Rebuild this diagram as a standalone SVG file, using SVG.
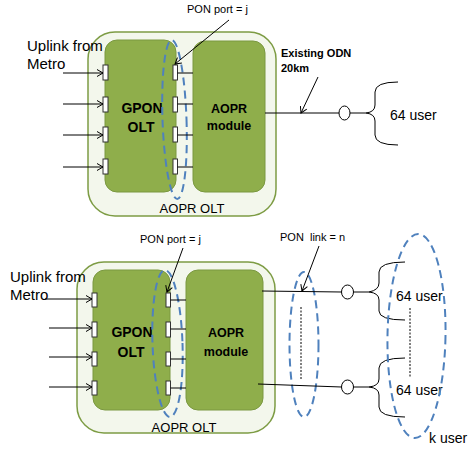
<svg xmlns="http://www.w3.org/2000/svg" width="469" height="449" viewBox="0 0 469 449">
<defs>
<marker id="arr" markerWidth="8" markerHeight="8" refX="7" refY="4" orient="auto" markerUnits="userSpaceOnUse">
<path d="M1,0.5 L7,4 L1,7.5" fill="none" stroke="#000" stroke-width="1"/>
</marker>
<style>
.outer{fill:#f3f7ec;stroke:#7d9c44;stroke-width:1.5}
.inner{fill:#8fae4b;stroke:#7a9840;stroke-width:1}
.port{fill:#fff;stroke:#333;stroke-width:1}
.ln{stroke:#000;stroke-width:1;fill:none}
.ar{stroke:#000;stroke-width:1;fill:none;marker-end:url(#arr)}
.blue{fill:none;stroke:#4f81bd;stroke-width:2;stroke-dasharray:8,5}
.dot{stroke:#000;stroke-width:1;stroke-dasharray:2,1.5}
.t{font-family:"Liberation Sans",Arial,sans-serif;fill:#000}
.b{font-family:"Liberation Sans",Arial,sans-serif;font-weight:bold;fill:#000}
.spl{fill:#fff;stroke:#000;stroke-width:1}
</style>
</defs>
<rect width="469" height="449" fill="#fff"/>

<!-- ===== TOP DIAGRAM ===== -->
<g id="top-aopr-olt">
<rect class="outer" x="88" y="32" width="188" height="184" rx="27"/>
<text class="t" x="192" y="213" font-size="13" text-anchor="middle">AOPR OLT</text>
</g>
<g id="top-gpon-olt">
<rect class="inner" x="105" y="40" width="71" height="152" rx="12"/>
<text class="b" x="142" y="113" font-size="14" text-anchor="middle">GPON</text>
<text class="b" x="141" y="132" font-size="14" text-anchor="middle">OLT</text>
</g>
<g id="top-aopr-module">
<rect class="inner" x="193" y="41" width="72" height="151" rx="12"/>
<text class="b" x="229" y="113" font-size="12.5" text-anchor="middle">AOPR</text>
<text class="b" x="229" y="130" font-size="12.5" text-anchor="middle">module</text>
</g>
<g id="top-ports">
<rect class="port" x="103" y="65" width="5" height="15"/>
<rect class="port" x="103" y="97" width="5" height="15"/>
<rect class="port" x="103" y="127" width="5" height="15"/>
<rect class="port" x="103" y="159" width="5" height="15"/>
<rect class="port" x="173" y="65" width="4.5" height="15"/>
<rect class="port" x="173" y="97" width="4.5" height="15"/>
<rect class="port" x="173" y="127" width="4.5" height="15"/>
<rect class="port" x="173" y="159" width="4.5" height="15"/>
</g>
<g id="top-splitter">
<ellipse class="spl" cx="344.5" cy="113" rx="5.5" ry="7"/>
</g>
<g id="top-brace">
<path class="ln" d="M398,82 Q375,82 375,92 L375,105 Q375,112 366,113 Q375,114 375,121 L375,135 Q375,145 398,145"/>
</g>
<g id="top-labels">
<text class="t" x="27" y="51" font-size="15">Uplink from</text>
<text class="t" x="27" y="69" font-size="15">Metro</text>
<text class="t" x="187" y="13" font-size="11">PON port = j</text>
<text class="b" x="281" y="57" font-size="11">Existing ODN</text>
<text class="b" x="281" y="72" font-size="11">20km</text>
<text class="t" x="390" y="120" font-size="14">64 user</text>
</g>
<g id="top-pon-ellipse">
<ellipse class="blue" cx="174.5" cy="119.5" rx="12" ry="79.5" transform="rotate(-2 174.5 119.5)"/>
</g>

<!-- ===== BOTTOM DIAGRAM ===== -->
<g id="bot-aopr-olt">
<rect class="outer" x="77" y="262" width="198" height="171" rx="27"/>
<text class="t" x="184" y="432" font-size="13" text-anchor="middle">AOPR OLT</text>
</g>
<g id="bot-gpon-olt">
<rect class="inner" x="93" y="270" width="77" height="140" rx="12"/>
<text class="b" x="132" y="337" font-size="14" text-anchor="middle">GPON</text>
<text class="b" x="131" y="357" font-size="14" text-anchor="middle">OLT</text>
</g>
<g id="bot-aopr-module">
<rect class="inner" x="186" y="270" width="77" height="140" rx="12"/>
<text class="b" x="226" y="337" font-size="12.5" text-anchor="middle">AOPR</text>
<text class="b" x="226" y="356" font-size="12.5" text-anchor="middle">module</text>
</g>
<g id="bot-ports">
<rect class="port" x="92" y="293" width="5" height="14"/>
<rect class="port" x="92" y="322" width="5" height="15"/>
<rect class="port" x="92" y="352" width="5" height="14"/>
<rect class="port" x="92" y="381" width="5" height="14"/>
<rect class="port" x="166" y="293" width="4.5" height="14"/>
<rect class="port" x="166" y="322" width="4.5" height="15"/>
<rect class="port" x="166" y="352" width="4.5" height="14"/>
<rect class="port" x="166" y="381" width="4.5" height="14"/>
</g>
<g id="bot-splitter-1">
<ellipse class="spl" cx="347.5" cy="292" rx="6" ry="7"/>
</g>
<g id="bot-splitter-2">
<ellipse class="spl" cx="347.5" cy="387" rx="6" ry="7"/>
</g>
<g id="bot-brace-1">
<path class="ln" d="M405,262 Q379,262 379,272 L379,283 Q379,290 369,292 Q379,293 379,300 L379,311 Q379,320 405,320"/>
</g>
<g id="bot-brace-2">
<path class="ln" d="M405,358 Q379,358 379,368 L379,379 Q379,386 369,387 Q379,388 379,395 L379,407 Q379,417 405,417"/>
</g>
<g id="bot-labels">
<text class="t" x="10" y="282" font-size="15">Uplink from</text>
<text class="t" x="10" y="300" font-size="15">Metro</text>
<text class="t" x="140" y="243" font-size="11">PON port = j</text>
<text class="t" x="280" y="241" font-size="11" xml:space="preserve">PON  link = n</text>
<text class="t" x="396" y="301" font-size="14">64 user</text>
<text class="t" x="396" y="395" font-size="14">64 user</text>
<text class="t" x="429" y="443" font-size="14">k user</text>
</g>
<g id="bot-pon-ellipses">
<ellipse class="blue" cx="167.5" cy="343.5" rx="15" ry="73.5" transform="rotate(-2 167.5 343.5)"/>
<ellipse class="blue" cx="304" cy="344.5" rx="14.5" ry="72.5"/>
<ellipse class="blue" cx="416.5" cy="336" rx="29" ry="102" transform="rotate(1 416.5 336)"/>
</g>

<!-- ===== CONNECTORS ===== -->
<g id="connectors">
<line class="ar" x1="63" y1="73" x2="103" y2="73"/>
<line class="ar" x1="63" y1="104" x2="103" y2="104"/>
<line class="ar" x1="63" y1="135" x2="103" y2="135"/>
<line class="ar" x1="63" y1="167" x2="103" y2="167"/>
<line class="ln" x1="177.5" y1="73" x2="193" y2="73"/>
<line class="ln" x1="177.5" y1="104" x2="193" y2="104"/>
<line class="ln" x1="177.5" y1="135" x2="193" y2="135"/>
<line class="ln" x1="177.5" y1="167" x2="193" y2="167"/>
<line class="ar" x1="229" y1="20" x2="175" y2="64"/>
<line class="ln" x1="265" y1="113" x2="339" y2="113"/>
<line class="ar" x1="318" y1="77" x2="301" y2="113"/>
<line class="ln" x1="350" y1="113" x2="366" y2="113"/>

<line class="ar" x1="45" y1="299" x2="92" y2="299"/>
<line class="ar" x1="49" y1="328" x2="92" y2="328"/>
<line class="ar" x1="49" y1="357" x2="92" y2="357"/>
<line class="ar" x1="49" y1="387" x2="92" y2="387"/>
<line class="ln" x1="170.5" y1="300" x2="186" y2="300"/>
<line class="ln" x1="170.5" y1="329" x2="186" y2="329"/>
<line class="ln" x1="170.5" y1="359" x2="186" y2="359"/>
<line class="ln" x1="170.5" y1="388" x2="186" y2="388"/>
<line class="ar" x1="183" y1="248" x2="167" y2="292"/>
<line class="ar" x1="319" y1="246" x2="302" y2="291"/>
<line class="ln" x1="262" y1="291" x2="341.5" y2="292"/>
<line class="ln" x1="258" y1="384" x2="341.5" y2="387"/>
<line class="ln" x1="353.5" y1="292" x2="369" y2="292"/>
<line class="ln" x1="353.5" y1="387" x2="369" y2="387"/>
<line class="dot" x1="301" y1="307" x2="301" y2="380"/>
<line class="dot" x1="410" y1="308" x2="410" y2="378"/>
</g>
</svg>
